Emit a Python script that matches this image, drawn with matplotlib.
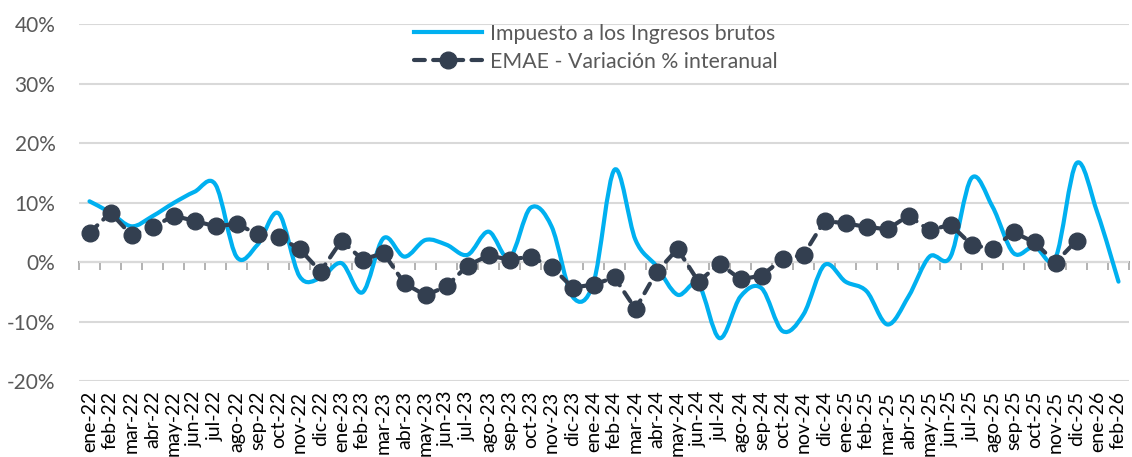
import numpy as np
import matplotlib
matplotlib.use('Agg')
import matplotlib.pyplot as plt
from matplotlib.path import Path
from matplotlib.patches import PathPatch
from matplotlib.lines import Line2D
from matplotlib.ticker import FuncFormatter

plt.rcParams['font.family'] = ['Lato', 'DejaVu Sans']

# month labels, ene-22 .. feb-26
meses = ['ene', 'feb', 'mar', 'abr', 'may', 'jun', 'jul', 'ago', 'sep', 'oct', 'nov', 'dic']
labels = [f'{m}-{y}' for y in ['22', '23', '24', '25'] for m in meses] + ['ene-26', 'feb-26']

# Impuesto a los Ingresos brutos (% i.a.)
iibb = [10.2, 8.3, 6.0, 7.7, 9.9, 11.8, 13.0, 0.9, 2.9, 8.2,
        -2.4, -2.7, -0.2, -5.1, 4.0, 0.9, 3.7, 2.9, 1.2, 5.1,
        0.7, 9.1, 6.0, -5.8, -3.5, 15.5, 3.7, -0.7, -5.5, -3.8,
        -12.8, -5.8, -4.4, -11.6, -8.8, -0.5, -3.3, -4.9, -10.5, -5.8,
        0.9, 0.9, 14.1, 9.3, 1.5, 2.6, 0.7, 16.6, 8.2, -3.3]

# EMAE - variacion % interanual (hasta dic-25)
emae = [4.9, 8.3, 4.5, 5.8, 7.8, 6.9, 6.0, 6.4, 4.7, 4.2,
        2.2, -1.6, 3.6, 0.4, 1.5, -3.6, -5.6, -4.1, -0.6, 1.1,
        0.4, 0.9, -0.8, -4.3, -3.8, -2.6, -7.9, -1.7, 2.2, -3.3,
        -0.3, -2.9, -2.3, 0.5, 1.2, 6.9, 6.5, 5.9, 5.5, 7.8,
        5.3, 6.3, 2.9, 2.2, 5.0, 3.3, -0.1, 3.6]

BLUE = '#00B0F0'
DARK = '#333F50'


def smooth_path(x, y, t=1 / 6):
    # Excel style smoothed line: bezier segments through every point
    x = np.asarray(x, float)
    y = np.asarray(y, float)
    n = len(x)
    verts = [(x[0], y[0])]
    codes = [Path.MOVETO]
    for i in range(n - 1):
        p0 = (x[max(i - 1, 0)], y[max(i - 1, 0)])
        p1 = (x[i], y[i])
        p2 = (x[i + 1], y[i + 1])
        p3 = (x[min(i + 2, n - 1)], y[min(i + 2, n - 1)])
        c1 = (p1[0] + (p2[0] - p0[0]) * t, p1[1] + (p2[1] - p0[1]) * t)
        c2 = (p2[0] - (p3[0] - p1[0]) * t, p2[1] - (p3[1] - p1[1]) * t)
        verts += [c1, c2, p2]
        codes += [Path.CURVE4] * 3
    return Path(verts, codes)


fig = plt.figure(figsize=(11.32, 4.57), dpi=100)
W, H = 1132, 457
ax = fig.add_axes([79 / W, (H - 381) / H, (1129 - 79) / W, (381 - 24) / H])

x = np.arange(len(labels))
ax.set_xlim(-0.5, len(labels) - 0.5)
ax.set_ylim(-20, 40)

for s in ax.spines.values():
    s.set_visible(False)
ax.set_yticks([-20, -10, 0, 10, 20, 30, 40])
ax.yaxis.set_major_formatter(FuncFormatter(lambda v, p: f'{v:.0f}%'))
ax.grid(axis='y', color='#D9D9D9', lw=1.5)
ax.set_axisbelow(True)
ax.tick_params(axis='y', length=0, labelsize=15, labelcolor='#595959', pad=17)

ax.set_xticks(x)
ax.set_xticklabels(labels, rotation=90, fontsize=14, color='black')
ax.tick_params(axis='x', length=0, pad=7)

# zero line with category tick marks
zero = ax.secondary_xaxis(1 / 3)
zero.set_xticks(np.arange(len(labels) + 1) - 0.5)
zero.tick_params(axis='x', direction='out', length=6, width=1.2, color='#A6A6A6',
                 labelbottom=False, labeltop=False, bottom=True, top=False)
zero.spines['bottom'].set_color('#A6A6A6')
zero.spines['bottom'].set_linewidth(1.5)
zero.spines['top'].set_visible(False)
zero.set_xticklabels([])

ax.add_patch(PathPatch(smooth_path(x, iibb), fill=False, edgecolor=BLUE, lw=3,
                       capstyle='round', joinstyle='round', zorder=3))

ax.plot(x[:len(emae)], emae, color=DARK, lw=3, dashes=(2.6, 2.0),
        dash_capstyle='round', marker='o', markersize=12, zorder=4)

handles = [Line2D([], [], color=BLUE, lw=3),
           Line2D([], [], color=DARK, lw=3, dashes=(2.6, 2.0), dash_capstyle='round',
                  marker='o', markersize=12)]
fig.legend(handles, ['Impuesto a los Ingresos brutos', 'EMAE - Variación % interanual'],
           loc='upper left', bbox_to_anchor=(403 / W, 1 - 13 / H), frameon=False,
           fontsize=15.3, labelcolor='#595959', handlelength=3.2, handletextpad=0.4,
           labelspacing=0.38, borderpad=0)

fig.savefig('out.png', dpi=100)
